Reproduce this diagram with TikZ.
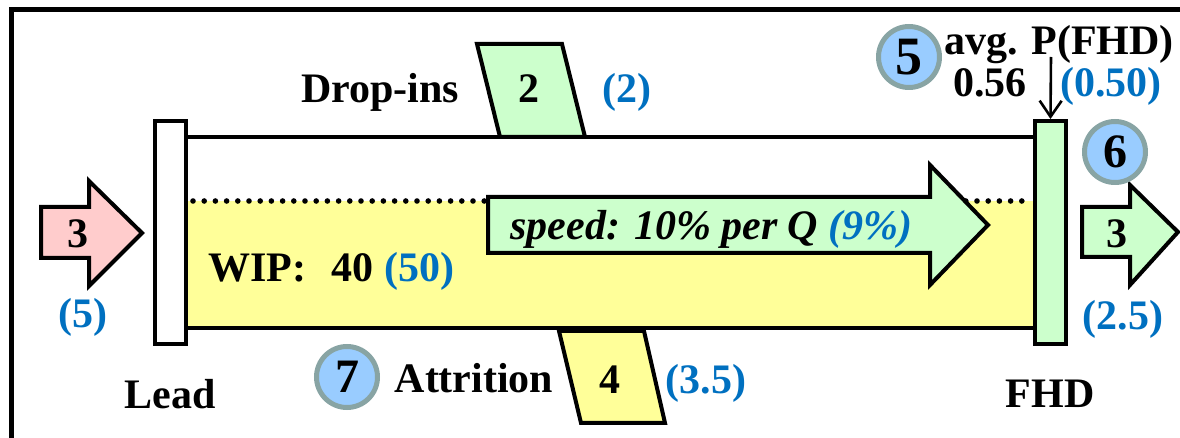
\documentclass[tikz,border=0pt]{standalone}
\usepackage{fontspec}
\setmainfont{Liberation Serif}[
  UprightFont={Liberation Serif},
  BoldFont={Liberation Serif Bold},
  ItalicFont={Liberation Serif Italic},
  BoldItalicFont={Liberation Serif Bold Italic}]
\newfontfamily\labelfont{Liberation Serif}
\usetikzlibrary{arrows.meta}
\definecolor{inflow}{HTML}{FFCCCC}
\definecolor{flowgreen}{HTML}{CCFFCC}
\definecolor{wipyellow}{HTML}{FFFF99}
\definecolor{numblue}{HTML}{0070C0}
\definecolor{circfill}{HTML}{99CCFF}
\definecolor{circline}{HTML}{88A4A4}
\begin{document}
\begin{tikzpicture}[x=0.5pt,y=-0.5pt,
  lbl/.style={anchor=base, inner sep=0pt, font=\labelfont\fontsize{21}{24}\selectfont\bfseries},
  lblw/.style={lbl, anchor=base west},
  est/.style={lbl, text=numblue},
  outline/.style={draw=black, line width=2pt, line join=miter},
  bar/.style={draw=black, line width=2pt, minimum width=15.5pt, minimum height=111.5pt, inner sep=0pt},
  num/.style={circle, fill=circfill, draw=circline, line width=2.5pt, minimum size=30.5pt, inner sep=0pt, font=\labelfont\fontsize{24}{26}\selectfont\bfseries},
  probe/.style={line width=1.3pt, -{Straight Barb[length=8pt, width=11pt, line width=1.3pt]}}
]
\useasboundingbox (0,0) rectangle (1180,438);

% frame
\draw[line width=2.5pt, line join=miter] (11,440) -- (11,10) -- (1182,10);

% work-in-progress pipe
\fill[wipyellow] (188,201) rectangle (1033,328);
\draw[line width=2pt] (188,137) -- (1033,137);
\draw[line width=2.8pt, line cap=round, dash pattern=on 0pt off 5.6pt] (193,201) -- (1031,201);
\draw[line width=1.8pt] (188,328) -- (1033,328);

% speed arrow
\draw[outline, fill=flowgreen] (488,197) -- (930,197) -- (930,165) -- (988,225)
  -- (930,285) -- (930,253) -- (488,253) -- cycle;
\node[lblw, font=\labelfont\fontsize{21}{24}\selectfont\bfseries\itshape] (speed) at (510,240)
  {speed: 10\% per Q \textcolor{numblue}{(9\%)}};

\node[lblw] (wip) at (208,282) {WIP:\hspace{0.6em}40 \textcolor{numblue}{(50)}};

% drop-ins and attrition
\draw[outline, fill=flowgreen] (477,44) -- (562,44) -- (585,137) -- (500,137) -- cycle;
\node[lbl] (dropval) at (529,103) {2};
\node[lbl] (droplbl) at (380,103) {Drop-ins};
\node[est] (dropest) at (627,103) {(2)};

\draw[outline, fill=wipyellow] (559,331) -- (644,331) -- (665,423) -- (581,423) -- cycle;
\node[lbl] (attval) at (610,394) {4};
\node[lbl] (attlbl) at (474,393) {Attrition};
\node[est] (attest) at (706,394) {(3.5)};
\node[num] (c7) at (347,377) {7};

% inflow
\draw[outline, fill=inflow] (41,207) -- (89,207) -- (89,181) -- (142,233)
  -- (89,286) -- (89,258) -- (41,258) -- cycle;
\node[lbl] (inval) at (78,248) {3};
\node[est] (inest) at (83,328) {(5)};

% stage bars
\node[bar, fill=white] (lead) at (170.5,232.5) {};
\node[bar, fill=flowgreen] (fhd) at (1050.5,232.5) {};
\node[lbl] (leadlbl) at (170,409) {Lead};
\node[lbl] (fhdlbl) at (1050,408) {FHD};

% outflow
\draw[outline, fill=flowgreen] (1082,207) -- (1130,207) -- (1130,185) -- (1178,232)
  -- (1130,285) -- (1130,257) -- (1082,257) -- cycle;
\node[lbl] (outval) at (1117,248) {3};
\node[est] (outest) at (1123,330) {(2.5)};
\node[num] (c6) at (1115,152) {6};

% probability of reaching FHD
\node[num, font=\labelfont\fontsize{27}{29}\selectfont\bfseries] (c5) at (909,57) {5};
\node[lbl] (plbl) at (1059,55) {avg. P(FHD)};
\node[lbl] (pval) at (990,97) {0.56};
\node[est] (pest) at (1111,97) {(0.50)};
\coordinate (pstart) at (1051,57);
\draw[probe] (pstart) -- (fhd.north);
\end{tikzpicture}
\end{document}
